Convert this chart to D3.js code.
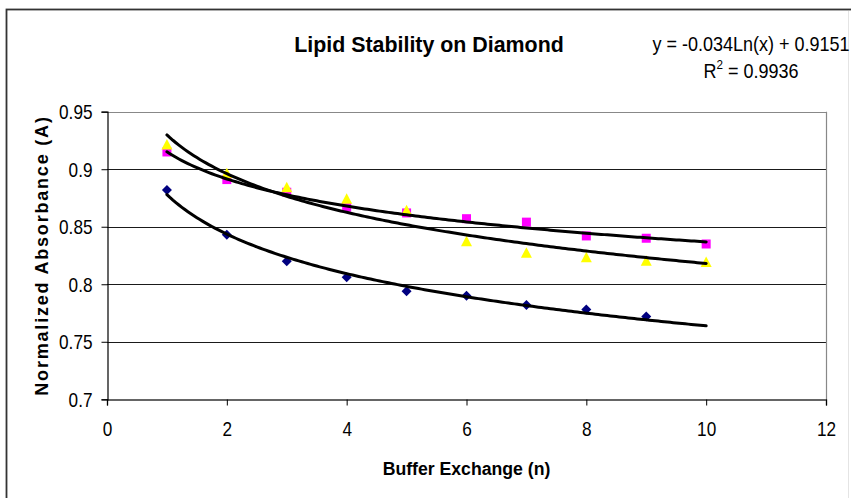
<!DOCTYPE html>
<html>
<head>
<meta charset="utf-8">
<script src="https://cdn.jsdelivr.net/npm/d3@7"></script>
<style>
  html, body { margin: 0; padding: 0; background: #fff; }
  svg text { font-family: "Liberation Sans", Arial, sans-serif; fill: #000; }
</style>
</head>
<body>
<svg id="chart" width="851" height="498"></svg>
<script>
// Buffer exchange number (x) and normalized absorbance for three samples
const exchanges = [1, 2, 3, 4, 5, 6, 7, 8, 9, 10];
const diamondSeries = [0.882, 0.843, 0.820, 0.806, 0.794, 0.790, 0.782, 0.778, 0.772];
const squareSeries = [0.915, 0.891, 0.880, 0.867, 0.862, 0.857, 0.854, 0.842, 0.840, 0.835];
const triangleSeries = [0.921, 0.896, 0.884, 0.874, 0.864, 0.837, 0.827, 0.823, 0.820, 0.819];

// Logarithmic trend shown in the label (square series)
const labelSlope = -0.034;
const labelIntercept = 0.9151;
const labelR2 = 0.9936;

// Axis ticks
const xTicks = [0, 2, 4, 6, 8, 10, 12];
const yTicks = [0.7, 0.75, 0.8, 0.85, 0.9, 0.95];

// Narrow text look: glyphs are squeezed horizontally
const SQUEEZE = 0.86;

const svg = d3.select("#chart");

// Outer chart frame
svg.append("rect")
  .attr("x", 6.5).attr("y", 9.5).attr("width", 900).attr("height", 600)
  .attr("fill", "none").attr("stroke", "#333").attr("stroke-width", 1.8);
svg.append("line")
  .attr("x1", 848.5).attr("x2", 848.5).attr("y1", 11).attr("y2", 498)
  .attr("stroke", "#e4e4e4").attr("stroke-width", 1);

const x = d3.scaleLinear().domain([0, 12]).range([107, 826]);
const y = d3.scaleLinear().domain([0.7, 0.95]).range([399.3, 111.7]);

// Horizontal gridlines (inner ones dark, top one part of the gray plot border)
svg.append("g").selectAll("line")
  .data(yTicks.slice(1))
  .join("line")
  .attr("x1", x(0)).attr("x2", x(12))
  .attr("y1", d => Math.round(y(d)) + 0.5).attr("y2", d => Math.round(y(d)) + 0.5)
  .attr("stroke", d => d === 0.95 ? "#888" : "#1a1a1a")
  .attr("stroke-width", d => d === 0.95 ? 1.2 : 1);

// Plot area right border
svg.append("line")
  .attr("x1", x(12) + 0.5).attr("x2", x(12) + 0.5)
  .attr("y1", y(0.95)).attr("y2", y(0.7))
  .attr("stroke", "#888").attr("stroke-width", 1.2);

// Axes
const xAxis = d3.axisBottom(x).tickValues(xTicks).tickSize(6).tickPadding(0)
  .tickFormat(d3.format("d"));
const gx = svg.append("g")
  .attr("transform", `translate(0,${Math.round(y(0.7)) + 0.5})`)
  .call(xAxis);
gx.select(".domain").attr("stroke", "#333").attr("stroke-width", 1.4);
gx.selectAll(".tick line").attr("stroke", "#000");
gx.selectAll(".tick text")
  .attr("font-size", 20).attr("y", 0).attr("dy", 0)
  .attr("transform", `translate(0,36) scale(${SQUEEZE},1)`)
  .style("font-family", "Liberation Sans, Arial, sans-serif");

const yAxis = d3.axisLeft(y).tickValues(yTicks).tickSize(6).tickPadding(0)
  .tickFormat(d => String(+d.toFixed(2)));
const gy = svg.append("g")
  .attr("transform", `translate(${Math.round(x(0)) + 0.5},0)`)
  .call(yAxis);
gy.select(".domain").attr("stroke", "#000").attr("stroke-width", 1.2);
gy.selectAll(".tick line").attr("stroke", "#000");
gy.selectAll(".tick text")
  .attr("font-size", 20).attr("x", 0).attr("dy", 0)
  .attr("transform", `translate(-15,7) scale(${SQUEEZE},1)`)
  .style("font-family", "Liberation Sans, Arial, sans-serif");

// Markers
const markers = svg.append("g");
const diamondPts = diamondSeries.map((v, i) => [exchanges[i], v]);
const squarePts = squareSeries.map((v, i) => [exchanges[i], v]);
const trianglePts = triangleSeries.map((v, i) => [exchanges[i], v]);

markers.append("g").selectAll("path").data(diamondPts).join("path")
  .attr("d", d => `M${x(d[0])},${y(d[1]) - 5}L${x(d[0]) + 5},${y(d[1])}L${x(d[0])},${y(d[1]) + 5}L${x(d[0]) - 5},${y(d[1])}Z`)
  .attr("fill", "#000080");
markers.append("g").selectAll("rect").data(squarePts).join("rect")
  .attr("x", d => x(d[0]) - 4.5).attr("y", d => y(d[1]) - 4.5)
  .attr("width", 9).attr("height", 9)
  .attr("fill", "#ff00ff");
markers.append("g").selectAll("path").data(trianglePts).join("path")
  .attr("d", d => `M${x(d[0])},${y(d[1]) - 6}L${x(d[0]) + 5.5},${y(d[1]) + 4.5}L${x(d[0]) - 5.5},${y(d[1]) + 4.5}Z`)
  .attr("fill", "#ffff00");

// Least-squares fit of y = a*ln(x) + b
function logFit(pts) {
  const lx = pts.map(p => Math.log(p[0]));
  const mx = d3.mean(lx), my = d3.mean(pts, p => p[1]);
  let sxy = 0, sxx = 0;
  pts.forEach((p, i) => { sxy += (lx[i] - mx) * (p[1] - my); sxx += (lx[i] - mx) ** 2; });
  const a = sxy / sxx;
  return { slope: a, intercept: my - a * mx };
}

const fits = [
  logFit(diamondPts),
  { slope: labelSlope, intercept: labelIntercept },
  logFit(trianglePts)
];

const trendX = d3.range(1, 10.001, 0.05);
const trendLine = d3.line().x(d => x(d[0])).y(d => y(d[1]));
svg.append("g").selectAll("path").data(fits).join("path")
  .attr("d", f => trendLine(trendX.map(t => [t, f.slope * Math.log(t) + f.intercept])))
  .attr("fill", "none").attr("stroke", "#000").attr("stroke-width", 3)
  .attr("stroke-linejoin", "round").attr("stroke-linecap", "round");

// Places a squeezed text block at (px, py)
function squeezedText(px, py, size, sx) {
  return svg.append("text")
    .attr("transform", `translate(${px},${py}) scale(${sx},1)`)
    .attr("font-size", size);
}

// Title
squeezedText(429, 52, 23, 0.93)
  .attr("text-anchor", "middle").attr("font-weight", "bold")
  .text("Lipid Stability on Diamond");

// Trendline equation label
squeezedText(751, 51, 20, 0.9)
  .attr("text-anchor", "middle")
  .text(`y = ${labelSlope}Ln(x) + ${labelIntercept}`);
const r2 = squeezedText(751, 78, 20, 0.9).attr("text-anchor", "middle");
r2.append("tspan").text("R");
r2.append("tspan").attr("font-size", 13).attr("dy", -9).text("2");
r2.append("tspan").attr("dy", 9).text(` = ${labelR2}`);

// Axis titles
squeezedText(x(6), 475, 19, 0.93)
  .attr("text-anchor", "middle").attr("font-weight", "bold")
  .text("Buffer Exchange (n)");

svg.append("text")
  .attr("transform", `translate(48,${(y(0.7) + y(0.95)) / 2}) rotate(-90)`)
  .attr("text-anchor", "middle")
  .attr("font-size", 18).attr("font-weight", "bold")
  .attr("letter-spacing", 1.8)
  .text("Normalized Absorbance (A)");
</script>
</body>
</html>
